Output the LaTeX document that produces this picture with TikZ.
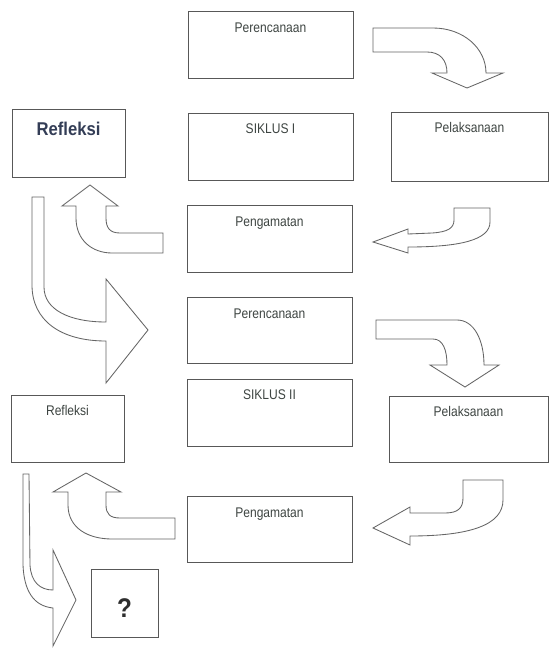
\documentclass[tikz,border=0pt]{standalone}
\usepackage{fontspec}
\setmainfont{Liberation Sans}
\newfontfamily\narrowfont[FakeStretch=0.86]{Liberation Sans}
\newfontfamily\narrowbold[FakeStretch=0.9]{Liberation Sans Bold}
\definecolor{boxline}{HTML}{585858}
\definecolor{arrowline}{HTML}{656565}
\definecolor{lbltext}{HTML}{3E4542}
\definecolor{reftext}{HTML}{333D56}
\definecolor{qtext}{HTML}{2E2E2E}
\tikzset{
  stagebox/.style={draw=boxline, line width=1pt, fill=white, rectangle, inner sep=0pt, outer sep=0pt, anchor=north west},
  lbl/.style={text=lbltext, font=\narrowfont\fontsize{14}{16}\selectfont, inner sep=0pt, anchor=base},
  boldlbl/.style={text=reftext, font=\narrowbold\fontsize{18.5}{20}\selectfont, inner sep=0pt, anchor=base},
  qlbl/.style={text=qtext, font=\narrowbold\fontsize{27}{30}\selectfont, inner sep=0pt, anchor=base},
  blockarrow/.style={draw=arrowline, line width=0.85pt, fill=white, line join=miter}
}
\begin{document}
\begin{tikzpicture}[x=1pt, y=-1pt]
\useasboundingbox (0,0) rectangle (550,648);
\fill[white] (0,0) rectangle (550,648);

% boxes
\node[stagebox, minimum width=165pt, minimum height=67pt] (p1) at (188,11) {};
\node[stagebox, minimum width=165pt, minimum height=67pt] (s1) at (188,113) {};
\node[stagebox, minimum width=157pt, minimum height=69pt] (l1) at (391,112) {};
\node[stagebox, minimum width=113pt, minimum height=68pt] (r1) at (12,109) {};
\node[stagebox, minimum width=165pt, minimum height=67pt] (g1) at (187,205) {};
\node[stagebox, minimum width=165pt, minimum height=66pt] (p2) at (187,297) {};
\node[stagebox, minimum width=165pt, minimum height=67pt] (s2) at (187,379) {};
\node[stagebox, minimum width=159pt, minimum height=66pt] (l2) at (389,396) {};
\node[stagebox, minimum width=113pt, minimum height=67pt] (r2) at (11,395) {};
\node[stagebox, minimum width=165pt, minimum height=66pt] (g2) at (187,496) {};
\node[stagebox, minimum width=67pt, minimum height=68pt] (q) at (91,569) {};

% labels
\node[lbl] (p1t) at ([yshift=-21pt]p1.north) {Perencanaan};
\node[lbl] (s1t) at ([yshift=-20pt]s1.north) {SIKLUS I};
\node[lbl] (l1t) at ([yshift=-20pt]l1.north) {Pelaksanaan};
\node[boldlbl] (r1t) at ([yshift=-26pt]r1.north) {Refleksi};
\node[lbl] (g1t) at ([yshift=-21pt]g1.north) {Pengamatan};
\node[lbl] (p2t) at ([yshift=-21pt]p2.north) {Perencanaan};
\node[lbl] (s2t) at ([yshift=-20pt]s2.north) {SIKLUS II};
\node[lbl] (l2t) at ([yshift=-20pt]l2.north) {Pelaksanaan};
\node[lbl] (r2t) at ([yshift=-20pt]r2.north) {Refleksi};
\node[lbl] (g2t) at ([yshift=-21pt]g2.north) {Pengamatan};
\node[qlbl] (qt) at (124.5,617) {?};

% block arrows, cycle I
\draw[blockarrow] (373,28) -- (433,28) .. controls (463,28) and (486,48) .. (486,73)
  -- (503,73) -- (467,88) -- (432,73) -- (447,73)
  .. controls (447,60) and (440,52) .. (427,52) -- (373,52) -- cycle;
\draw[blockarrow] (454,208) -- (490,208) -- (490,222) .. controls (490,240) and (460,247) .. (408,247)
  -- (408,253) -- (373,242) -- (408,229) -- (408,234) -- (432,233)
  .. controls (448,232) and (454,228) .. (454,220) -- cycle;
\draw[blockarrow] (163,233) -- (120,233) .. controls (110,233) and (106,228) .. (106,218)
  -- (106,206) -- (118,206) -- (90,185) -- (62,206) -- (76,206) -- (76,218)
  .. controls (76,240) and (92,253) .. (112,253) -- (163,253) -- cycle;
\draw[blockarrow] (32,197) -- (44,197) -- (44,287) .. controls (44,310) and (70,322) .. (106,322)
  -- (106,279) -- (148,330) -- (106,383) -- (106,341)
  .. controls (60,341) and (32,320) .. (32,285) -- cycle;

% block arrows, cycle II
\draw[blockarrow] (376,320) -- (457,320) .. controls (474,320) and (484,340) .. (484,365)
  -- (499,365) -- (465,387) -- (430,365) -- (447,365)
  .. controls (447,350) and (443,339) .. (433,339) -- (376,339) -- cycle;
\draw[blockarrow] (463,480) -- (503,480) -- (503,500) .. controls (503,525) and (470,536) .. (410,536)
  -- (410,545) -- (373,528) -- (410,507) -- (410,513) -- (445,513)
  .. controls (458,513) and (463,508) .. (463,498) -- cycle;
\draw[blockarrow] (175,518) -- (120,518) .. controls (110,518) and (106,514) .. (106,505)
  -- (106,492) -- (121,492) -- (86,473) -- (53,492) -- (68,492) -- (68,505)
  .. controls (68,528) and (88,539) .. (112,539) -- (175,539) -- cycle;
\draw[blockarrow] (23,474) -- (29,474) -- (30,565) .. controls (31,582) and (40,590) .. (53,590)
  -- (53,550) -- (76,600) -- (53,646) -- (53,608)
  .. controls (33,606) and (24,590) .. (23,565) -- cycle;
\end{tikzpicture}
\end{document}
